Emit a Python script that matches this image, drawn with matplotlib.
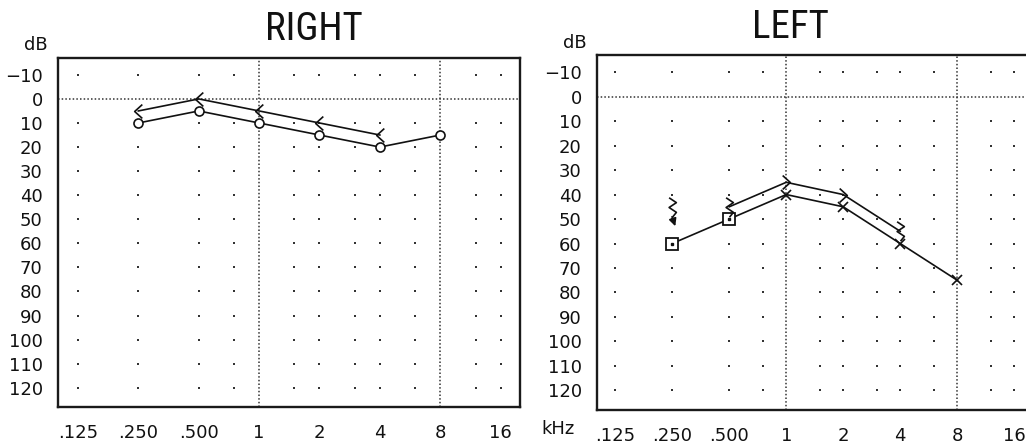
import numpy as np
import matplotlib
matplotlib.use('Agg')
import matplotlib.pyplot as plt
from matplotlib import font_manager
from matplotlib.path import Path

# frequencies in kHz
freq_labels = ['.125', '.250', '.500', '1', '2', '4', '8', '16']
freq_ticks = [0.125, 0.25, 0.5, 1, 2, 4, 8, 16]
dot_cols = [0.125, 0.25, 0.5, 0.75, 1.5, 2, 3, 4, 6, 12, 16]
db_rows = [-10, 10, 20, 30, 40, 50, 60, 70, 80, 90, 100, 110, 120]
db_ticks = [-10, 0, 10, 20, 30, 40, 50, 60, 70, 80, 90, 100, 110, 120]

# right ear
r_air_f = [0.25, 0.5, 1, 2, 4, 8]
r_air_db = [10, 5, 10, 15, 20, 15]
r_bone_f = [0.25, 0.5, 1, 2, 4]
r_bone_db = [5, 0, 5, 10, 15]

# left ear
l_air_f = [0.25, 0.5, 1, 2, 4, 8]
l_air_db = [60, 50, 40, 45, 60, 75]
l_air_masked = [True, True, False, False, False, False]
l_bone_f = [0.5, 1, 2, 4]
l_bone_db = [45, 35, 40, 55]
l_bone_masked = [True, False, False, True]
l_nr_f = 0.25   # no response, masked bone
l_nr_db = 45

W, H = 1026, 446
INK = '#111111'

def pick_font(names):
    for n in names:
        try:
            font_manager.findfont(n, fallback_to_default=False)
            return n
        except Exception:
            pass
    return 'DejaVu Sans'

title_font = pick_font(['Liberation Sans Narrow', 'DejaVu Sans Condensed', 'Roboto Condensed', 'Liberation Sans'])

# open strokes for the bone symbols
lt_mark = Path([(0.55, 1), (-0.55, 0), (0.55, -1)], [Path.MOVETO, Path.LINETO, Path.LINETO])
gt_mark = Path([(-0.55, 1), (0.55, 0), (-0.55, -1)], [Path.MOVETO, Path.LINETO, Path.LINETO])
sq_mark = Path([(-0.35, 1), (0.4, 0.5), (-0.35, 0.0), (0.4, -0.5), (0.0, -1)],
               [Path.MOVETO] + [Path.LINETO] * 4)

fig = plt.figure(figsize=(W / 100, H / 100), dpi=100)

def make_axes(left, top, right, bottom, xlim):
    ax = fig.add_axes([left / W, 1 - bottom / H, (right - left) / W, (bottom - top) / H])
    ax.set_xlim(xlim)
    ax.set_ylim(128, -17)
    ax.set_xticks(np.log2(freq_ticks))
    ax.set_xticklabels(freq_labels)
    ax.set_yticks(db_ticks)
    ax.set_yticklabels([str(v).replace('-', '\u2212') for v in db_ticks])
    ax.tick_params(length=0, labelsize=13, pad=11, colors=INK)
    ax.tick_params(axis='x', pad=12)
    for s in ax.spines.values():
        s.set_linewidth(1.7)
        s.set_color('#1a1a1a')
    # background dot grid
    gx, gy = np.meshgrid(np.log2(dot_cols), db_rows)
    ax.scatter(gx.ravel(), gy.ravel(), s=3, marker='s', color='#333333', linewidths=0, zorder=1)
    ax.axhline(0, color='#333333', lw=1.1, ls=(0, (1, 1.4)), zorder=1)
    ax.axvline(0, color='#333333', lw=1.1, ls=(0, (1, 1.4)), zorder=1)
    ax.axvline(3, color='#333333', lw=1.1, ls=(0, (1, 1.4)), zorder=1)
    return ax

axr = make_axes(58, 58, 520, 407, (-3.33, 4.32))
axl = make_axes(597, 55, 1033, 410, (-3.32, 4.33))

lw = 1.2

# right ear
axr.plot(np.log2(r_bone_f), r_bone_db, color=INK, lw=lw, zorder=2)
axr.plot(np.log2(r_air_f), r_air_db, color=INK, lw=lw, zorder=2)
axr.plot(np.log2(r_air_f), r_air_db, ls='none', marker='o', ms=6.5, mfc='white', mec=INK, mew=1.2, zorder=3)
axr.plot(np.log2(r_bone_f), r_bone_db, ls='none', marker=lt_mark, ms=10, mfc='none', mec=INK, mew=1.2, zorder=3)

# left ear
axl.plot(np.log2(l_bone_f), l_bone_db, color=INK, lw=lw, zorder=2)
axl.plot(np.log2(l_air_f), l_air_db, color=INK, lw=lw, zorder=2)
for f, d, m in zip(l_air_f, l_air_db, l_air_masked):
    if m:
        axl.plot(np.log2(f), d, marker='s', ms=8, mfc='white', mec=INK, mew=1.3, zorder=3)
        axl.plot(np.log2(f), d, marker='s', ms=1.5, color=INK, zorder=4)
    else:
        axl.plot(np.log2(f), d, marker='x', ms=7, color=INK, mew=1.2, zorder=3)
for f, d, m in zip(l_bone_f, l_bone_db, l_bone_masked):
    mk = sq_mark if m else gt_mark
    axl.plot(np.log2(f), d, marker=mk, ms=14 if m else 10, mfc='none', mec=INK, mew=1.2, zorder=3)
axl.plot(np.log2(l_nr_f), l_nr_db, marker=sq_mark, ms=14, mfc='none', mec=INK, mew=1.2, zorder=3)
axl.annotate('', xy=(np.log2(l_nr_f) + 0.07, l_nr_db + 9), xytext=(np.log2(l_nr_f) - 0.02, l_nr_db + 3),
             arrowprops=dict(arrowstyle='-|>', color=INK, lw=1.2, mutation_scale=11))

# labels
fig.text(48 / W, 1 - 45 / H, 'dB', ha='right', va='center', fontsize=13, color=INK)
fig.text(587 / W, 1 - 43 / H, 'dB', ha='right', va='center', fontsize=13, color=INK)
fig.text(558 / W, 1 - 429 / H, 'kHz', ha='center', va='center', fontsize=13, color=INK)
fig.text(314 / W, 1 - 29 / H, 'RIGHT', ha='center', va='center', fontsize=28,
         family=title_font, color=INK)
fig.text(790 / W, 1 - 28 / H, 'LEFT', ha='center', va='center', fontsize=28,
         family=title_font, color=INK)

fig.savefig('out.png', dpi=100, facecolor='white')
